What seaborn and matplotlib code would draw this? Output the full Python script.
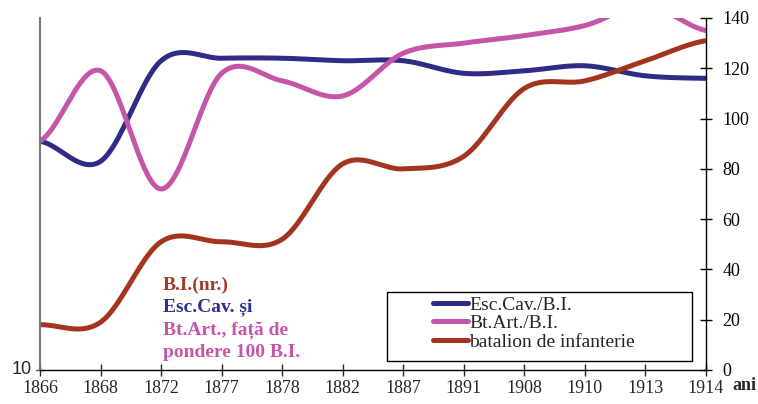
import numpy as np
import pandas as pd
import matplotlib
matplotlib.use("Agg")
import matplotlib.pyplot as plt
from matplotlib.patches import Rectangle
import seaborn as sns

# === Data ===
years = ["1866", "1868", "1872", "1877", "1878", "1882",
         "1887", "1891", "1908", "1910", "1913", "1914"]
esc_cav = [91, 83, 123, 124, 124, 123, 123, 118, 119, 121, 117, 116]
bt_art = [91, 119, 72, 118, 115, 109, 126, 130, 133, 137, 145, 135]
batalion = [18, 19, 51, 51, 52, 82, 80, 85, 112, 115, 123, 131]

series_names = ["Esc.Cav./B.I.", "Bt.Art./B.I.", "batalion de infanterie"]
colors = ["#2E2C85", "#C455A9", "#A3341F"]


def smooth(vals, n=40):
    # Catmull-Rom curve through the points (Excel-like smoothed line)
    p = np.asarray(vals, dtype=float)
    p = np.concatenate([[p[0]], p, [p[-1]]])
    xs, ys = [], []
    for i in range(1, len(p) - 2):
        t = np.linspace(0, 1, n, endpoint=False)
        p0, p1, p2, p3 = p[i - 1], p[i], p[i + 1], p[i + 2]
        y = 0.5 * ((2 * p1) + (-p0 + p2) * t
                   + (2 * p0 - 5 * p1 + 4 * p2 - p3) * t ** 2
                   + (-p0 + 3 * p1 - 3 * p2 + p3) * t ** 3)
        xs.append(i - 1 + t)
        ys.append(y)
    xs.append([len(vals) - 1])
    ys.append([vals[-1]])
    return np.concatenate(xs), np.concatenate(ys)


frames = []
for name, vals in zip(series_names, [esc_cav, bt_art, batalion]):
    sx, sy = smooth(vals)
    frames.append(pd.DataFrame({"x": sx, "y": sy, "serie": name}))
df = pd.concat(frames, ignore_index=True)

sns.set_theme(style="white")
plt.rcParams["font.family"] = ["Liberation Serif", "DejaVu Serif"]

W, H = 758, 404
fig = plt.figure(figsize=(W / 100, H / 100), dpi=100)
ax = fig.add_axes([40 / W, 34 / H, 666 / W, 352 / H])

sns.lineplot(data=df, x="x", y="y", hue="serie", palette=colors,
             hue_order=series_names, linewidth=3.6, ax=ax, sort=False,
             legend=False)

ax.set_xlim(0, len(years) - 1)
ax.set_ylim(0, 140)
ax.set_xticks(range(len(years)))
ax.set_xticklabels(years, fontsize=13)
ax.yaxis.tick_right()
ax.set_yticks(range(0, 141, 20))
ax.tick_params(axis="y", labelsize=13, direction="inout", length=8,
               width=1, colors="black", right=True, left=False, pad=8)
ax.tick_params(axis="x", direction="inout", length=8, width=1,
               bottom=True, pad=3)
ax.set_xlabel("")
ax.set_ylabel("")

ax.spines["top"].set_visible(False)
ax.spines["left"].set_color("#777777")
ax.spines["left"].set_linewidth(1.5)
for s in ["bottom", "right"]:
    ax.spines[s].set_color("black")
    ax.spines[s].set_linewidth(1)

# left axis label "10" and its tick
ax.plot([-0.06, 0.06], [0, 0], color="#555555", lw=1, clip_on=False)
ax.text(-0.14, 0, "10", ha="right", va="center", fontsize=13,
        family="Liberation Sans")

# "ani" next to last year label
fig.text(732 / W, 1 - 386 / H, "ani", fontsize=13, fontweight="bold",
         ha="left", va="center")

# legend: box drawn separately, entries start further right
fig.add_artist(Rectangle((387 / W, 1 - 361 / H), 305 / W, 69 / H,
                         transform=fig.transFigure, fill=False,
                         edgecolor="black", linewidth=1))
handles = [plt.Line2D([0], [0], color=c, lw=3.6) for c in colors]
leg = fig.legend(handles, series_names, loc="upper left",
                 bbox_to_anchor=(433 / W, 1 - 296 / H),
                 fontsize=14, frameon=False,
                 handlelength=1.8, handletextpad=0.05, labelspacing=0.05,
                 borderpad=0, borderaxespad=0)

# annotation block
notes = [("B.I.(nr.)", "#A33A27"),
         ("Esc.Cav. și", "#2E3192"),
         ("Bt.Art., față de", "#C655AA"),
         ("pondere 100 B.I.", "#C655AA")]
for i, (txt, col) in enumerate(notes):
    fig.text(163 / W, 1 - (285 + i * 22.5) / H, txt, color=col,
             fontsize=14, fontweight="bold", ha="left", va="center")

fig.savefig("out.png", dpi=100)
